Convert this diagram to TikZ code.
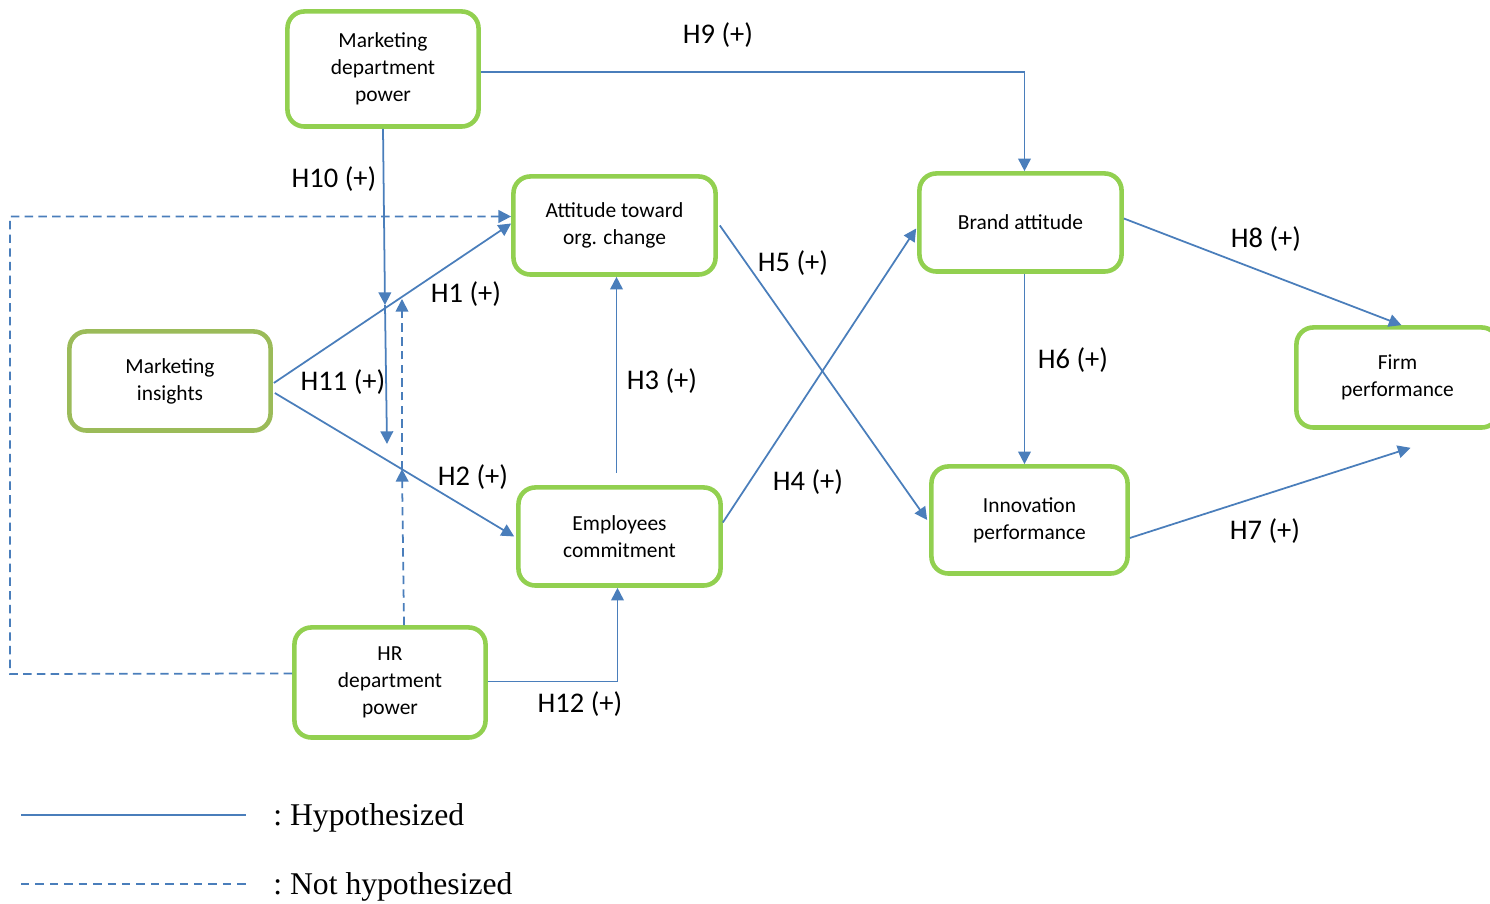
\documentclass[tikz,border=0pt]{standalone}
\usepackage{fontspec}
\setmainfont{Carlito}
\newfontfamily\legendfont{Liberation Serif}
\usetikzlibrary{arrows.meta,positioning,calc}
\definecolor{boxgreen}{RGB}{146,208,80}
\definecolor{insightgreen}{RGB}{155,187,89}
\definecolor{linkblue}{RGB}{74,126,187}

\tikzset{
  box/.style={draw=boxgreen, line width=1.3pt, rounded corners=4.8pt, align=center,
    fill=white, inner sep=1pt, font=\fontsize{6.1}{7.7}\selectfont},
  hyp/.style={draw=linkblue, line width=0.5pt, -{Triangle[length=3.6pt,width=3.6pt]}},
  nothyp/.style={hyp, dash pattern=on 2.4pt off 1.5pt},
  lbl/.style={font=\fontsize{8.1}{9.7}\selectfont},
  legtext/.style={font=\legendfont\fontsize{9}{11}\selectfont, anchor=west},
}

\begin{document}
\begin{tikzpicture}[x=0.01cm, y=-0.01cm]
  \useasboundingbox (0,0) rectangle (1490,904);
  % Constructs
  \node[box, minimum width=1.91cm, minimum height=1.15cm] (mdp) at (383,69) {Marketing\\department\\power};
  \node[box, minimum width=2.02cm, minimum height=0.98cm] (att) at (614.5,225.5) {Attitude toward\\org. change};
  \node[box, draw=insightgreen, minimum width=2.01cm, minimum height=0.99cm] (mi) at (170,381) {Marketing\\insights};
  \node[box, minimum width=2.02cm, minimum height=0.98cm] (ec) at (619.5,536.5) {Employees\\commitment};
  \node[box, minimum width=1.91cm, minimum height=1.10cm] (hr) at (390,682.5) {HR\\department\\power};
  \node[box, minimum width=2.02cm, minimum height=0.98cm] (ba) at (1020.5,222.5) {Brand attitude};
  \node[box, minimum width=1.96cm, minimum height=1.07cm] (iv) at (1029.5,520) {Innovation\\performance};
  \node[box, minimum width=2.02cm, minimum height=1.00cm] (fp) at (1397.5,377.5) {Firm\\performance};

  % Helper points
  \coordinate (h1pt) at (385,305);
  \coordinate (h11end) at (387,444);
  \coordinate (h2pt) at (402,469);
  \coordinate (h1dash) at (402,299);
  \coordinate (loopbl) at (10,674);

  % Hypothesized paths
  \draw[hyp] ($(mdp.east)+(0,3)$) -| ($(ba.north)+(4,0)$);
  \draw[hyp] (mdp.south) -- (h1pt);
  \draw[hyp] (h1pt) -- (h11end);
  \draw[hyp] ($(mi.east)+(1,2)$) -- ($(att.west)+(0,-2)$);
  \draw[hyp] ($(mi.east)+(2,12)$) -- ($(ec.west)+(-2,0)$);
  \draw[hyp, shorten <=3.5pt] ($(ec.north)+(-3,0)$) -- ($(att.south)+(2,0)$);
  \draw[hyp] ($(ec.east)+(0,-14)$) -- ($(ba.west)+(-1,6)$);
  \draw[hyp] ($(att.east)+(2,0)$) -- ($(iv.west)+(-2,0)$);
  \draw[hyp] ($(ba.south)+(4,0)$) -- ($(iv.north)+(-5,0)$);
  \draw[hyp] ($(iv.east)+(0,18)$) -- ($(fp.south)+(13,18)$);
  \draw[hyp] ($(ba.east)+(0,-4)$) -- ($(fp.north)+(4,0)$);
  \draw[hyp] ($(hr.east)+(0,-1)$) -| ($(ec.south)+(-2,0)$);

  % Not hypothesized paths
  \draw[nothyp] ($(hr.north)+(14,0)$) -- (h2pt);
  \draw[nothyp] (h2pt) -- (h1dash);
  \draw[nothyp] ($(hr.west)+(0,-9)$) -- (loopbl) |- ($(att.west)+(0,-9)$);

  % Labels
  \node[lbl] (l9) at (718,35) {H9 (+)};
  \node[lbl] (l10) at (334,179) {H10 (+)};
  \node[lbl] (l1) at (466,294) {H1 (+)};
  \node[lbl] (l11) at (343,382) {H11 (+)};
  \node[lbl] (l2) at (473,477) {H2 (+)};
  \node[lbl] (l3) at (662,381) {H3 (+)};
  \node[lbl] (l4) at (808,482) {H4 (+)};
  \node[lbl] (l5) at (793,263) {H5 (+)};
  \node[lbl] (l6) at (1073,360) {H6 (+)};
  \node[lbl] (l7) at (1265,531) {H7 (+)};
  \node[lbl] (l8) at (1266,239) {H8 (+)};
  \node[lbl] (l12) at (580,704) {H12 (+)};

  % Legend
  \coordinate (leg1a) at (21,815);
  \coordinate (leg1b) at (246,815);
  \coordinate (leg2a) at (21,884);
  \coordinate (leg2b) at (246,884);
  \draw[draw=linkblue, line width=0.6pt] (leg1a) -- (leg1b);
  \draw[draw=linkblue, line width=0.6pt, dash pattern=on 2.4pt off 1.7pt] (leg2a) -- (leg2b);
  \node[legtext] (leg1) at (261,818) {:\ Hypothesized};
  \node[legtext] (leg2) at (261,887) {:\ Not hypothesized};
\end{tikzpicture}
\end{document}
